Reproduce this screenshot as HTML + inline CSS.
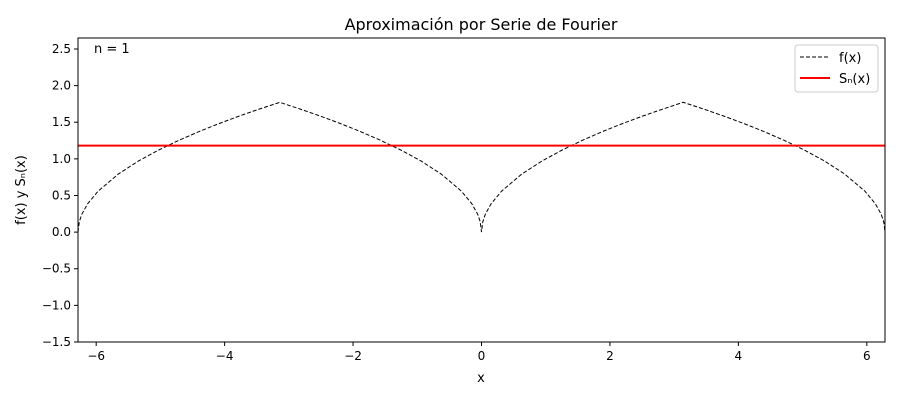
<!DOCTYPE html>
<html><head><meta charset="utf-8"><style>
body{margin:0;background:#fff;font-family:"Liberation Sans","DejaVu Sans",sans-serif;}
svg text{font-family:"DejaVu Sans","Liberation Sans",sans-serif;}
</style></head><body>
<svg id="chart" width="900" height="400"></svg>
<script>
const halfX = [0, 0.02, 0.06, 0.15, 0.314, 0.628, 0.942, 1.257, 1.571, 1.885, 2.199, 2.513, 2.827, 3.1416];
const halfF = [0, 0.141, 0.245, 0.387, 0.560, 0.793, 0.971, 1.121, 1.253, 1.373, 1.483, 1.585, 1.681, 1.772];
const snValue = 1.18;
const xTicks = [-6, -4, -2, 0, 2, 4, 6];
const yTicks = [-1.5, -1.0, -0.5, 0.0, 0.5, 1.0, 1.5, 2.0, 2.5];
const nLabel = "n = 1";

const L=78,R=885,T=38,B=342;
const xMin=-2*Math.PI,xMax=2*Math.PI,yMin=-1.5,yMax=2.65;
const sx=v=>L+(v-xMin)/(xMax-xMin)*(R-L);
const sy=v=>B-(v-yMin)/(yMax-yMin)*(B-T);
const NS="http://www.w3.org/2000/svg";
const svg=document.getElementById('chart');
function mk(t,a,txt){const e=document.createElementNS(NS,t);for(const k in a)e.setAttribute(k,a[k]);if(txt!=null)e.textContent=txt;svg.appendChild(e);return e;}

// build full periodic series from half period
const P=2*Math.PI;
let xs=[],fs=[];
for(const off of [-P,0]){
  for(let i=0;i<halfX.length;i++){xs.push(off+halfX[i]);fs.push(halfF[i]);}
  for(let i=halfX.length-2;i>=0;i--){xs.push(off+P-halfX[i]);fs.push(halfF[i]);}
}

// ticks
xTicks.forEach(v=>{
  const t=mk('line',{x1:sx(v),x2:sx(v),y1:B,y2:B+4,stroke:'#000'});
  
  const l=mk('text',{x:sx(v),y:B+18,'text-anchor':'middle','font-size':12},String(v).replace('-','−'));
  
});
yTicks.forEach(v=>{
  const t=mk('line',{x1:L-4,x2:L,y1:sy(v),y2:sy(v),stroke:'#000'});
  
  const l=mk('text',{x:L-7,y:sy(v)+4,'text-anchor':'end','font-size':12},v.toFixed(1).replace('-','−'));
  
});

// clip
const defs=mk('defs',{});
const cp=document.createElementNS(NS,'clipPath');cp.setAttribute('id','clip');
const cr=document.createElementNS(NS,'rect');cr.setAttribute('x',L);cr.setAttribute('y',T);cr.setAttribute('width',R-L);cr.setAttribute('height',B-T);
cp.appendChild(cr);defs.appendChild(cp);

// f(x)
const fp=mk('path',{d:xs.map((x,i)=>(i?'L':'M')+sx(x).toFixed(2)+','+sy(fs[i]).toFixed(2)).join(''),fill:'none',stroke:'#000','stroke-width':1,'stroke-dasharray':'4,2','clip-path':'url(#clip)'});

// Sn
const sp=mk('line',{x1:sx(xMin),x2:sx(xMax),y1:sy(snValue),y2:sy(snValue),stroke:'#ff0000','stroke-width':2});


// frame
const fr=mk('rect',{x:L,y:T,width:R-L,height:B-T,fill:'none',stroke:'#000','stroke-width':1});


const nl=mk('text',{x:94,y:53,'font-size':13},nLabel);

</script>
<svg width="0" height="0" style="position:absolute"></svg>
<div style="position:absolute;left:0;top:0;width:900px;height:400px;pointer-events:none">
<svg width="900" height="400" style="position:absolute;left:0;top:0">
<text x="481" y="30" text-anchor="middle" font-size="16">Aproximación por Serie de Fourier</text>
<text x="481" y="382" text-anchor="middle" font-size="13">x</text>
<text transform="translate(25,190) rotate(-90)" text-anchor="middle" font-size="13">f(x) y Sₙ(x)</text>
<g>
<rect x="795" y="45" width="83" height="47" rx="3" fill="#fff" stroke="#ccc"/>
<line x1="800" x2="830" y1="57" y2="57" stroke="#000" stroke-dasharray="4,2"/>
<text x="839" y="62" font-size="13">f(x)</text>
<line x1="800" x2="830" y1="78" y2="78" stroke="#f00" stroke-width="2"/>
<text x="839" y="83" font-size="13">Sₙ(x)</text>
</g>
</svg></div>
</body></html>
